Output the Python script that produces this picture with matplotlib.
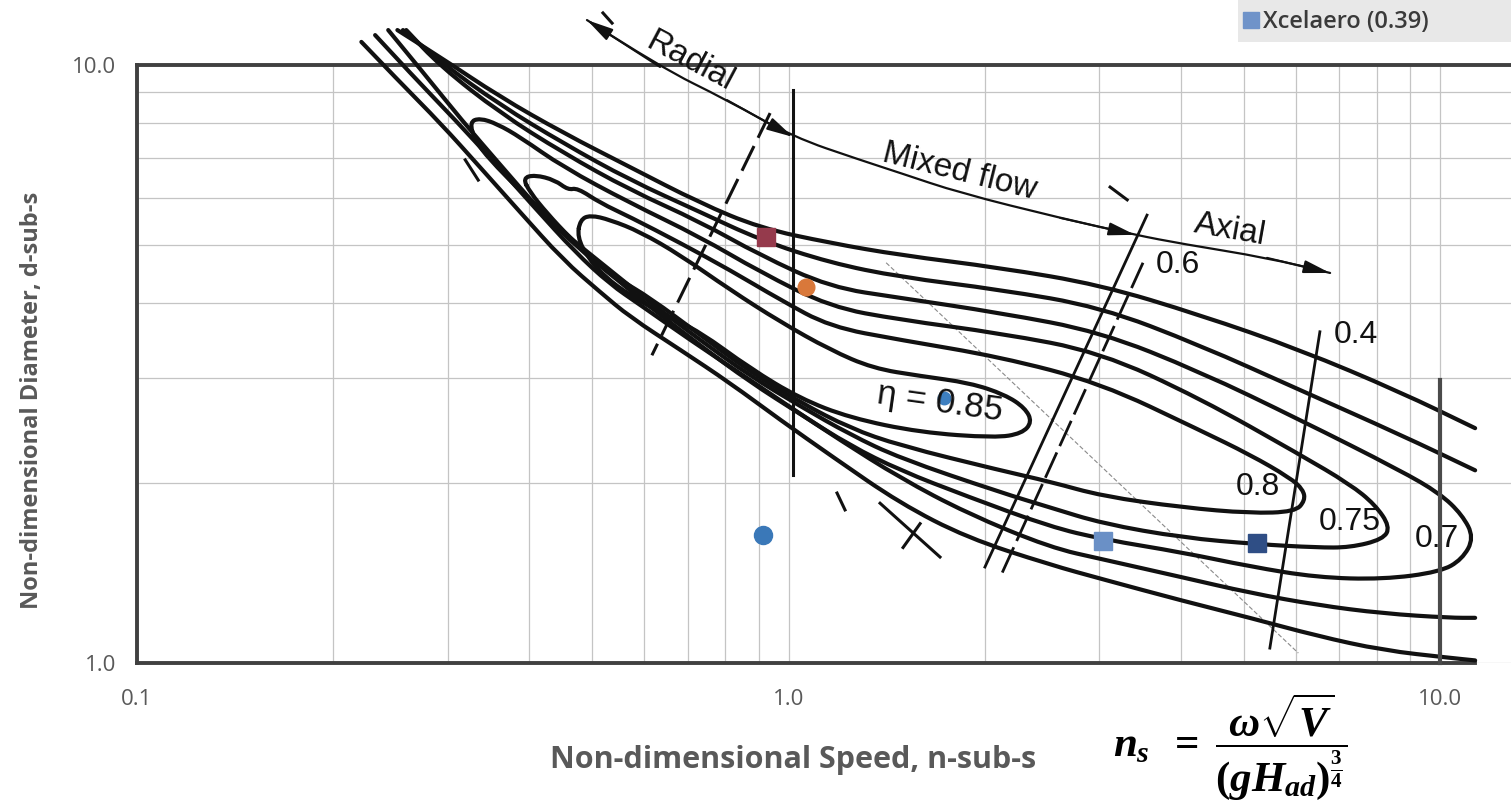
import numpy as np
import matplotlib
matplotlib.use("Agg")
import matplotlib.pyplot as plt
from matplotlib.path import Path
from matplotlib.patches import PathPatch, Rectangle
from matplotlib.lines import Line2D
from matplotlib.ticker import FixedLocator

plt.rcParams["font.family"] = ["Liberation Sans", "DejaVu Sans"]
plt.rcParams["mathtext.fontset"] = "custom"
plt.rcParams["mathtext.it"] = "Liberation Serif:italic:bold"
plt.rcParams["mathtext.rm"] = "Liberation Serif:bold"
plt.rcParams["mathtext.bf"] = "Liberation Serif:bold"

# ---------------- efficiency contours (ns, ds) ----------------
outer2_upper_ns = [0.251, 0.292, 0.361, 0.451, 0.571, 0.731, 0.904, 1.158, 1.483, 2.112, 3.007, 4.281, 6.098, 8.682, 11.32]
outer2_upper_ds = [11.44, 10.31, 8.84, 7.70, 6.75, 5.88, 5.34, 5.04, 4.81, 4.58, 4.29, 3.82, 3.34, 2.84, 2.47]
outer2_lower_ns = [0.221, 0.253, 0.292, 0.336, 0.387, 0.451, 0.514, 0.571, 0.682, 0.813, 0.971, 1.170, 1.483, 1.879,
                   2.520, 3.039, 4.032, 5.109, 6.474, 8.177, 10.36, 11.32]
outer2_lower_ds = [10.93, 9.37, 8.00, 6.75, 5.68, 4.72, 4.17, 3.79, 3.34, 2.94, 2.55, 2.21, 1.85, 1.62,
                   1.46, 1.38, 1.27, 1.19, 1.11, 1.05, 1.02, 1.01]

outer1_upper_ns = [0.256, 0.292, 0.361, 0.451, 0.571, 0.731, 0.904, 1.158, 1.483, 2.112, 3.007, 4.281, 6.098, 8.682, 11.32]
outer1_upper_ds = [11.44, 10.12, 8.57, 7.40, 6.42, 5.68, 5.10, 4.67, 4.42, 4.21, 3.94, 3.40, 2.86, 2.41, 2.10]
outer1_lower_ns = [0.232, 0.267, 0.308, 0.354, 0.408, 0.470, 0.532, 0.592, 0.706, 0.843, 1.005, 1.199, 1.483, 1.879,
                   2.520, 3.039, 4.032, 5.109, 6.474, 8.177, 10.36, 11.32]
outer1_lower_ds = [11.22, 9.51, 8.09, 6.86, 5.77, 4.87, 4.30, 3.97, 3.47, 3.05, 2.68, 2.36, 2.04, 1.78,
                   1.56, 1.49, 1.39, 1.31, 1.25, 1.21, 1.19, 1.19]

eta70_ns = [0.243, 0.277, 0.315, 0.361, 0.415, 0.479, 0.551, 0.613, 0.731, 0.873, 1.041, 1.243, 1.483, 1.879,
            2.520, 3.039, 4.032, 5.109, 6.474, 8.177, 10.0, 10.81, 11.28, 10.81, 10.0, 8.682, 6.098, 4.281,
            3.007, 2.112, 1.483, 1.158, 0.904, 0.731, 0.571, 0.451, 0.361, 0.292, 0.259]
eta70_ds = [11.44, 9.62, 8.09, 6.81, 5.72, 4.90, 4.34, 3.94, 3.40, 2.95, 2.61, 2.31, 2.10, 1.90,
            1.69, 1.61, 1.53, 1.45, 1.39, 1.38, 1.42, 1.49, 1.62, 1.77, 1.92, 2.10, 2.55, 3.07,
            3.58, 3.85, 4.08, 4.25, 4.81, 5.47, 6.18, 7.13, 8.31, 9.96, 11.44]

eta75_ns = [0.324, 0.336, 0.357, 0.387, 0.451, 0.571, 0.731, 0.904, 1.158, 1.483, 2.112, 3.007, 4.281, 6.098,
            7.275, 7.948, 8.381, 8.177, 7.275, 6.474, 5.236, 4.032, 3.039, 2.520, 2.112, 1.483, 1.243, 1.041,
            0.873, 0.731, 0.613, 0.514, 0.446, 0.387, 0.348, 0.330, 0.324]
eta75_ds = [8.03, 8.15, 7.97, 7.58, 6.75, 5.88, 5.16, 4.51, 3.94, 3.75, 3.56, 3.31, 2.77, 2.23,
            1.99, 1.84, 1.69, 1.61, 1.56, 1.56, 1.58, 1.62, 1.71, 1.82, 1.93, 2.20, 2.41, 2.69,
            3.02, 3.47, 4.01, 4.68, 5.30, 6.18, 6.94, 7.49, 8.03]

eta80_ns = [0.391, 0.408, 0.438, 0.459, 0.474, 0.514, 0.571, 0.682, 0.813, 0.971, 1.158, 1.483, 2.112, 3.007,
            4.281, 5.109, 5.886, 6.163, 6.207, 5.991, 5.109, 4.032, 3.039, 2.520, 2.112, 1.483, 1.243, 1.041,
            0.873, 0.731, 0.613, 0.551, 0.508, 0.462, 0.426, 0.401, 0.391]
eta80_ds = [6.47, 6.55, 6.42, 6.18, 6.23, 5.88, 5.57, 5.04, 4.54, 4.05, 3.65, 3.47, 3.25, 2.94,
            2.45, 2.23, 2.04, 1.95, 1.87, 1.79, 1.78, 1.82, 1.90, 2.01, 2.10, 2.31, 2.47, 2.73,
            3.07, 3.54, 4.08, 4.37, 4.67, 5.14, 5.65, 6.13, 6.47]

eta85_ns = [0.479, 0.496, 0.532, 0.592, 0.682, 0.813, 0.971, 1.158, 1.348, 1.592, 1.899, 2.149, 2.307, 2.365,
            2.283, 2.075, 1.592, 1.243, 1.041, 0.873, 0.731, 0.646, 0.571, 0.523, 0.492, 0.474, 0.479]
eta85_ds = [5.51, 5.61, 5.51, 5.26, 4.81, 4.21, 3.72, 3.34, 3.11, 3.02, 2.94, 2.81, 2.67, 2.53,
            2.42, 2.38, 2.43, 2.57, 2.77, 3.11, 3.58, 3.82, 4.12, 4.42, 4.76, 5.16, 5.51]

# ---------------- flow-type arrow (Radial / Mixed flow / Axial) ----------------
flow_ns = [0.4905, 0.6351, 0.8044, 1.016, 1.287, 1.483, 1.833, 2.611, 3.403, 4.032, 5.425, 6.78]
flow_ds = [11.89, 9.92, 8.74, 7.58, 6.94, 6.60, 6.11, 5.55, 5.20, 5.02, 4.76, 4.49]

# ---------------- straight construction lines: (ns0, ds0, ns1, ds1) ----------------
line_ns1_solid = (1.016, 9.08, 1.016, 2.06)
line_radial_dash = (0.937, 8.31, 0.617, 3.27)
line_06_solid = (3.55, 5.61, 2.002, 1.447)
line_06_dash = (3.50, 4.67, 2.127, 1.414)
line_04 = (6.54, 3.58, 5.48, 1.059)
line_thin = (1.412, 4.67, 6.06, 1.039)
line_right = (10.0, 2.97, 10.0, 1.0)
short_strokes = [(1.187, 1.924, 1.221, 1.803), (1.382, 1.85, 1.708, 1.504), (1.499, 1.56, 1.592, 1.71),
                 (0.319, 6.94, 0.334, 6.42), (3.116, 6.25, 3.31, 5.95), (0.519, 12.22, 0.536, 11.75)]

# ---------------- machine points ----------------
point_ns = [0.924, 1.064, 1.73, 0.914, 3.04, 5.24]
point_ds = [5.16, 4.25, 2.77, 1.64, 1.60, 1.59]
point_marker = ["s", "o", "o", "o", "s", "s"]
point_color = ["#953a4c", "#d9783a", "#3d7fc0", "#3a78b8", "#6a90c6", "#2f4e85"]
point_size = [13, 12, 9, 13, 13, 13]

legend_label = "Xcelaero (0.39)"

x_ticks = [0.1, 1.0, 10.0]
x_ticklabels = ["0.1", "1.0", "10.0"]
y_ticks = [1.0, 10.0]
y_ticklabels = ["1.0", "10.0"]
x_grid = [0.2, 0.3, 0.4, 0.5, 0.6, 0.7, 0.8, 0.9, 2, 3, 4, 5, 6, 7, 8, 9]
y_grid = [2, 3, 4, 5, 6, 7, 8, 9]

# ---------------- figure ----------------
W, H = 1511, 807
fig = plt.figure(figsize=(W / 100, H / 100), dpi=100)
fig.patch.set_facecolor("white")
ax = fig.add_axes([137 / W, 144 / H, 1374 / W, 598 / H])
ax.set_xscale("log")
ax.set_yscale("log")
ax.set_xlim(0.1, 12.85)
ax.set_ylim(1.0, 10.0)
ax.set_autoscale_on(False)

ax.set_xticks(x_ticks)
ax.set_xticklabels(x_ticklabels)
ax.set_yticks(y_ticks)
ax.set_yticklabels(y_ticklabels)
ax.xaxis.set_minor_locator(FixedLocator(x_grid))
ax.yaxis.set_minor_locator(FixedLocator(y_grid))
ax.xaxis.set_minor_formatter(plt.NullFormatter())
ax.yaxis.set_minor_formatter(plt.NullFormatter())
ax.tick_params(which="both", length=0)
ax.tick_params(axis="x", pad=19, labelsize=16, labelcolor="#595959")
ax.tick_params(axis="y", pad=15, labelsize=16, labelcolor="#595959")
for lab in ax.get_xticklabels() + ax.get_yticklabels():
    lab.set_fontfamily(["Open Sans", "DejaVu Sans"])
ax.grid(which="both", color="#c4c4c4", lw=0.9)
ax.set_axisbelow(True)

for side in ("left", "top", "bottom"):
    ax.spines[side].set_color("#404040")
    ax.spines[side].set_linewidth(2.8)
ax.spines["right"].set_visible(False)
ax.spines["bottom"].set_bounds(0.1, 11.3)

INK = "#111111"


def draw_curve(ns, ds, closed=False, lw=3.0, color=INK, z=3):
    pts = np.column_stack([np.log10(ns), np.log10(ds)])
    if closed:
        pts = pts[:-1]
        mids = (pts + np.roll(pts, -1, axis=0)) / 2
        verts = [mids[-1]]
        codes = [Path.MOVETO]
        for i in range(len(pts)):
            verts += [pts[i], mids[i]]
            codes += [Path.CURVE3, Path.CURVE3]
    else:
        verts = [pts[0]]
        codes = [Path.MOVETO]
        for i in range(1, len(pts) - 1):
            verts += [pts[i], (pts[i] + pts[i + 1]) / 2]
            codes += [Path.CURVE3, Path.CURVE3]
        verts.append(pts[-1])
        codes.append(Path.LINETO)
    verts = 10 ** np.array(verts)
    patch = PathPatch(Path(verts, codes), fill=False, edgecolor=color, lw=lw,
                      transform=ax.transData, clip_on=False, zorder=z,
                      capstyle="round", joinstyle="round")
    ax.add_patch(patch)


for ns, ds in [(outer2_upper_ns, outer2_upper_ds), (outer2_lower_ns, outer2_lower_ds),
               (outer1_upper_ns, outer1_upper_ds), (outer1_lower_ns, outer1_lower_ds),
               (eta70_ns, eta70_ds)]:
    draw_curve(ns, ds)
for ns, ds in [(eta75_ns, eta75_ds), (eta80_ns, eta80_ds), (eta85_ns, eta85_ds)]:
    draw_curve(ns, ds, closed=True)

# flow arrow
draw_curve(flow_ns, flow_ds, lw=1.6)
head = dict(arrowstyle="-|>,head_length=0.9,head_width=0.22", color=INK, lw=1.4,
            mutation_scale=18, shrinkA=0, shrinkB=0)
for tip, tail in [(0, 1), (3, 2), (8, 7), (11, 10)]:
    ax.annotate("", xy=(flow_ns[tip], flow_ds[tip]), xytext=(flow_ns[tail], flow_ds[tail]),
                arrowprops=head, annotation_clip=False, zorder=4)


def seg(spec, **kw):
    ax.plot([spec[0], spec[2]], [spec[1], spec[3]], clip_on=False, **kw)


seg(line_ns1_solid, color=INK, lw=2.2, zorder=3)
seg(line_radial_dash, color=INK, lw=2.2, ls=(0, (9, 3)), zorder=3)
seg(line_06_solid, color=INK, lw=2.0, zorder=3)
seg(line_06_dash, color=INK, lw=2.0, ls=(0, (10, 2.5)), zorder=3)
seg(line_04, color=INK, lw=2.0, zorder=3)
seg(line_thin, color="#8a8a8a", lw=0.8, ls=(0, (4, 2)), zorder=2)
seg(line_right, color="#4a4a4a", lw=3.0, zorder=6)
for s in short_strokes:
    seg(s, color=INK, lw=2.2, zorder=3)

# machine points
for x, y, m, c, s in zip(point_ns, point_ds, point_marker, point_color, point_size):
    ax.plot([x], [y], marker=m, color=c, ms=s, ls="none", zorder=4, mec=c)

# chart annotations
txt = dict(color=INK, ha="center", va="center", rotation_mode="anchor", zorder=5)
ax.text(0.706, 10.12, "Radial", fontsize=24, rotation=-28, clip_on=False, **txt)
ax.text(1.833, 6.62, "Mixed flow", fontsize=24, rotation=-14, **txt)
ax.text(4.76, 5.30, "Axial", fontsize=24, rotation=-10, **txt)
ax.text(3.96, 4.63, "0.6", fontsize=23, **txt)
ax.text(7.43, 3.54, "0.4", fontsize=23, **txt)
ax.text(5.244, 1.97, "0.8", fontsize=23, **txt)
ax.text(7.275, 1.72, "0.75", fontsize=23, **txt)
ax.text(9.89, 1.61, "0.7", fontsize=23, **txt)
ax.text(1.708, 2.73, "η = 0.85", fontsize=25, rotation=-8, **txt)

# axis titles
fig.text(793 / W, 1 - 760 / H, "Non-dimensional Speed, n-sub-s", ha="center", va="center",
         fontsize=22, fontweight="bold", color="#595959", family=["Open Sans", "DejaVu Sans"])
fig.text(32 / W, 1 - 400 / H, "Non-dimensional Diameter, d-sub-s", ha="center", va="center",
         rotation=90, fontsize=17, fontweight="bold", color="#595959",
         family=["Open Sans", "DejaVu Sans"])

# specific speed definition
fig.text(1230 / W, 1 - 802 / H, r"$n_s\;\;=\;\dfrac{\omega\sqrt{V}}{(gH_{ad})^{\frac{3}{4}}}$",
         ha="center", va="bottom", fontsize=31, color="black")

# legend strip
fig.add_artist(Rectangle((1238 / W, 1 - 42 / H), 273 / W, 42 / H, transform=fig.transFigure,
                         facecolor="#e8e8e8", edgecolor="none", zorder=0))
handle = Line2D([], [], marker="s", color="#6f93c9", ls="none", ms=11)
fig.legend([handle], [legend_label], loc="center left", bbox_to_anchor=(1243 / W, 1 - 22 / H),
           frameon=False, handlelength=0.7, handletextpad=0.15, borderpad=0, borderaxespad=0,
           prop={"family": ["Open Sans", "DejaVu Sans"], "size": 17, "weight": "semibold"},
           labelcolor="#3a3a3a")

fig.savefig("out.png", dpi=100)
